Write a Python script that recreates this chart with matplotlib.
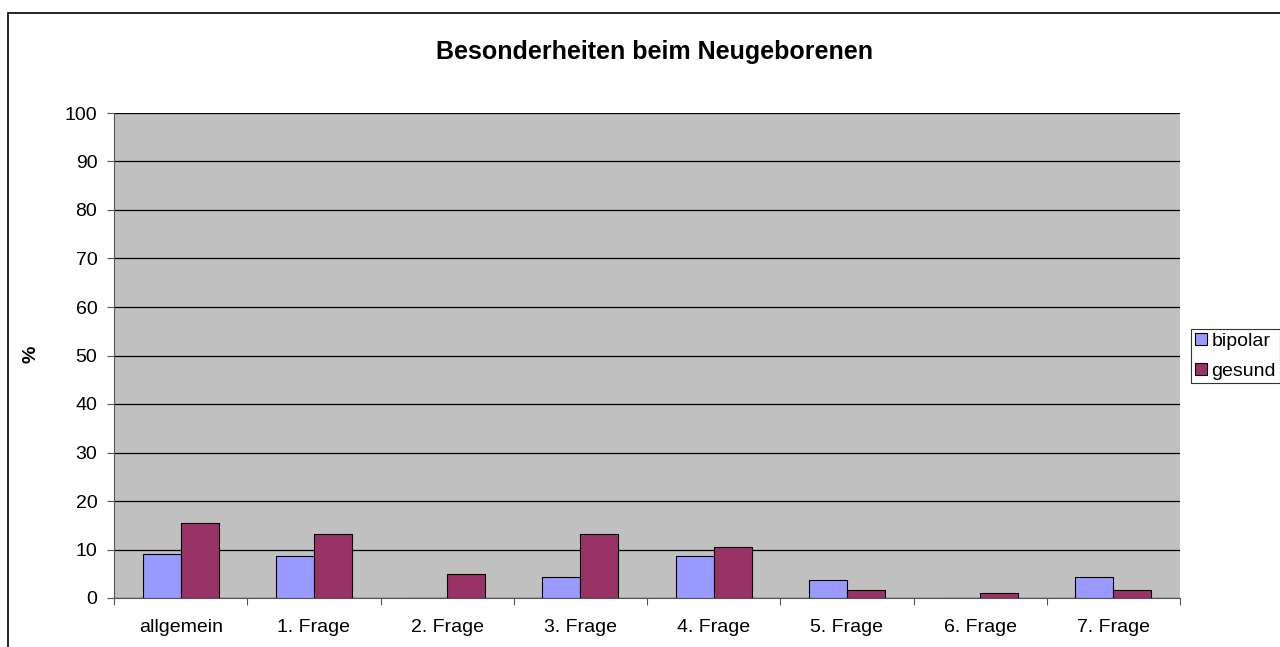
import matplotlib.pyplot as plt
import matplotlib.patches as mpatches
import numpy as np

plt.rcParams['font.family'] = ['Liberation Sans', 'DejaVu Sans']

# dades
categories = ['allgemein', '1. Frage', '2. Frage', '3. Frage', '4. Frage',
              '5. Frage', '6. Frage', '7. Frage']
bipolar = [9.0, 8.7, 0.0, 4.3, 8.7, 3.8, 0.0, 4.3]
gesund = [15.4, 13.1, 4.9, 13.1, 10.5, 1.7, 1.0, 1.7]
y_ticks = list(range(0, 101, 10))

fig = plt.figure(figsize=(12.8, 6.47), dpi=100)
fig.patch.set_facecolor('white')

# marc exterior del gràfic
fig.patches.append(mpatches.Rectangle((8 / 1280, -0.1), 1.0, 1.1 - 13 / 647,
                                      transform=fig.transFigure, fill=False,
                                      edgecolor='black', linewidth=1.2))

ax = fig.add_axes([114 / 1280, 1 - 598 / 647, 1066 / 1280, 485 / 647])
ax.set_facecolor('#C0C0C0')

x = np.arange(len(categories))
w = 0.285
ax.bar(x - w / 2, bipolar, width=w, color='#9999FF', edgecolor='black',
       linewidth=0.8, label='bipolar', zorder=3)
ax.bar(x + w / 2, gesund, width=w, color='#993366', edgecolor='black',
       linewidth=0.8, label='gesund', zorder=3)

ax.set_xlim(-0.5, len(categories) - 0.5)
ax.set_ylim(0, 100)
ax.set_yticks(y_ticks)
ax.set_yticklabels([str(v) for v in y_ticks], fontsize=14)
ax.yaxis.grid(True, color='black', linewidth=0.9, zorder=1)
ax.set_axisbelow(True)

# ticks de l'eix x als límits de cada categoria
ax.set_xticks(np.arange(len(categories) + 1) - 0.5)
ax.set_xticklabels([])
ax.set_xticks(x, minor=True)
ax.set_xticklabels(categories, minor=True, fontsize=14)
ax.tick_params(axis='x', which='minor', length=0, pad=15)
ax.tick_params(axis='x', which='major', length=5, direction='out', color='#555555')
ax.tick_params(axis='y', length=5, direction='out', color='#555555', pad=7)

for side in ['top', 'right']:
    ax.spines[side].set_visible(False)
ax.spines['left'].set_color('#555555')
ax.spines['bottom'].set_color('#555555')

ax.set_ylabel('%', fontsize=14, fontweight='bold')
ax.yaxis.set_label_coords((40 - 114) / 1066, (598 - 354) / 485)
fig.text(654 / 1280, 1 - 52 / 647, 'Besonderheiten beim Neugeborenen', ha='center',
         va='center', fontsize=18, fontweight='bold')

leg = fig.legend(loc='upper left', bbox_to_anchor=(1191 / 1280, 1 - 329 / 647),
                 fontsize=14, frameon=True, fancybox=False, edgecolor='black',
                 handlelength=0.6, handleheight=0.6, handletextpad=0.25,
                 borderpad=0.2, labelspacing=0.65, borderaxespad=0)
leg.get_frame().set_linewidth(0.8)

plt.savefig('out.png', dpi=100)
